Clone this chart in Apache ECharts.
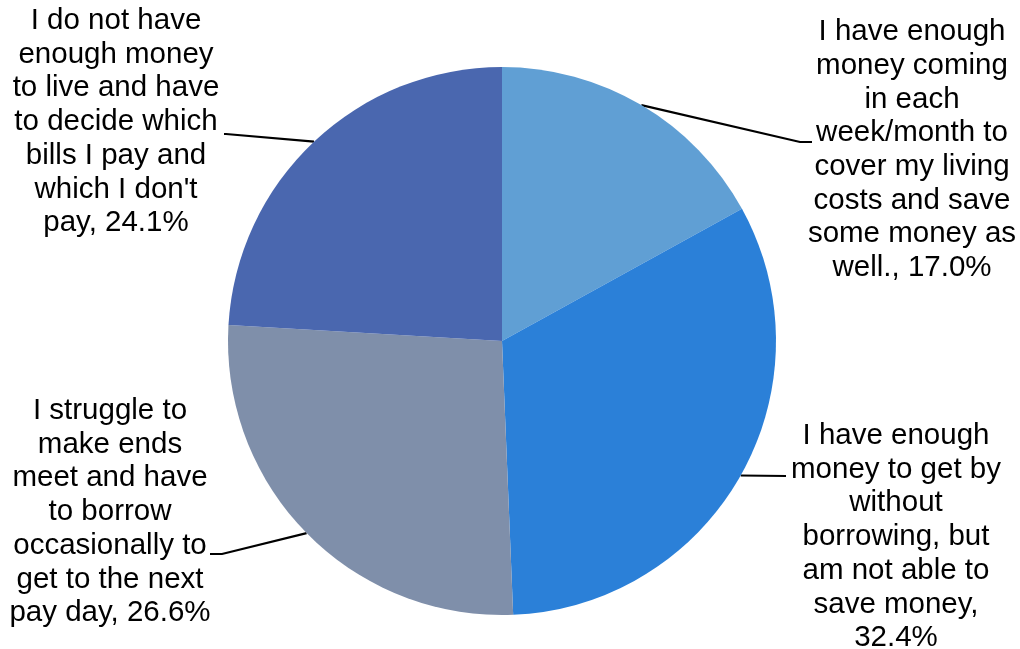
<!DOCTYPE html>
<html>
<head>
<meta charset="utf-8">
<script src="https://cdn.jsdelivr.net/npm/echarts@6/dist/echarts.min.js"></script>
<style>
  html, body { margin: 0; padding: 0; background: #ffffff; }
  #chart { width: 1020px; height: 649px; }
</style>
</head>
<body>
<div id="chart"></div>
<script>
// Answers, clockwise from twelve o'clock; line breaks follow the printed labels
const categories = [
  "I have enough\nmoney coming\nin each\nweek/month to\ncover my living\ncosts and save\nsome money as\nwell.",
  "I have enough\nmoney to get by\nwithout\nborrowing, but\nam not able to\nsave money,",
  "I struggle to\nmake ends\nmeet and have\nto borrow\noccasionally to\nget to the next\npay day",
  "I do not have\nenough money\nto live and have\nto decide which\nbills I pay and\nwhich I don't\npay"
];
const shares = [17.0, 32.4, 26.6, 24.1];
const colors = ["#609fd4", "#2b80d8", "#7f8faa", "#4a67af"];

// Where each label block sits and how its leader line bends
const labelSpots = [
  { x: 912, y: 150, bend: [800, 142], end: [812, 142] },
  { x: 896, y: 537, bend: [786, 476], end: [786, 476] },
  { x: 110, y: 512, bend: [222, 554], end: [210, 554] },
  { x: 116, y: 122, bend: [226, 134], end: [224, 134] }
];

const chart = echarts.init(document.getElementById('chart'), null, { renderer: 'canvas' });

chart.setOption({
  animation: false,
  backgroundColor: '#ffffff',
  series: [{
    type: 'pie',
    center: [502, 341],
    radius: 274,
    startAngle: 90,
    clockwise: true,
    data: categories.map((name, i) => ({
      name: name,
      value: shares[i],
      itemStyle: { color: colors[i] }
    })),
    itemStyle: { borderWidth: 0 },
    emphasis: { disabled: true },
    label: {
      show: true,
      position: 'outside',
      color: '#000000',
      fontFamily: 'Liberation Sans, Arial, sans-serif',
      fontSize: 29.5,
      lineHeight: 33.7,
      align: 'center',
      formatter: p => {
        const sep = p.name.endsWith(',') ? '\n' : ', ';
        return p.name + sep + p.value.toFixed(1) + '%';
      }
    },
    labelLine: {
      show: true,
      length: 20,
      length2: 20,
      lineStyle: { color: '#000000', width: 2.2 }
    },
    labelLayout: params => {
      const s = labelSpots[params.dataIndex];
      const start = params.labelLinePoints ? params.labelLinePoints[0] : s.bend;
      return {
        x: s.x,
        y: s.y,
        align: 'center',
        verticalAlign: 'middle',
        labelLinePoints: [start, s.bend, s.end]
      };
    }
  }]
});
</script>
</body>
</html>
